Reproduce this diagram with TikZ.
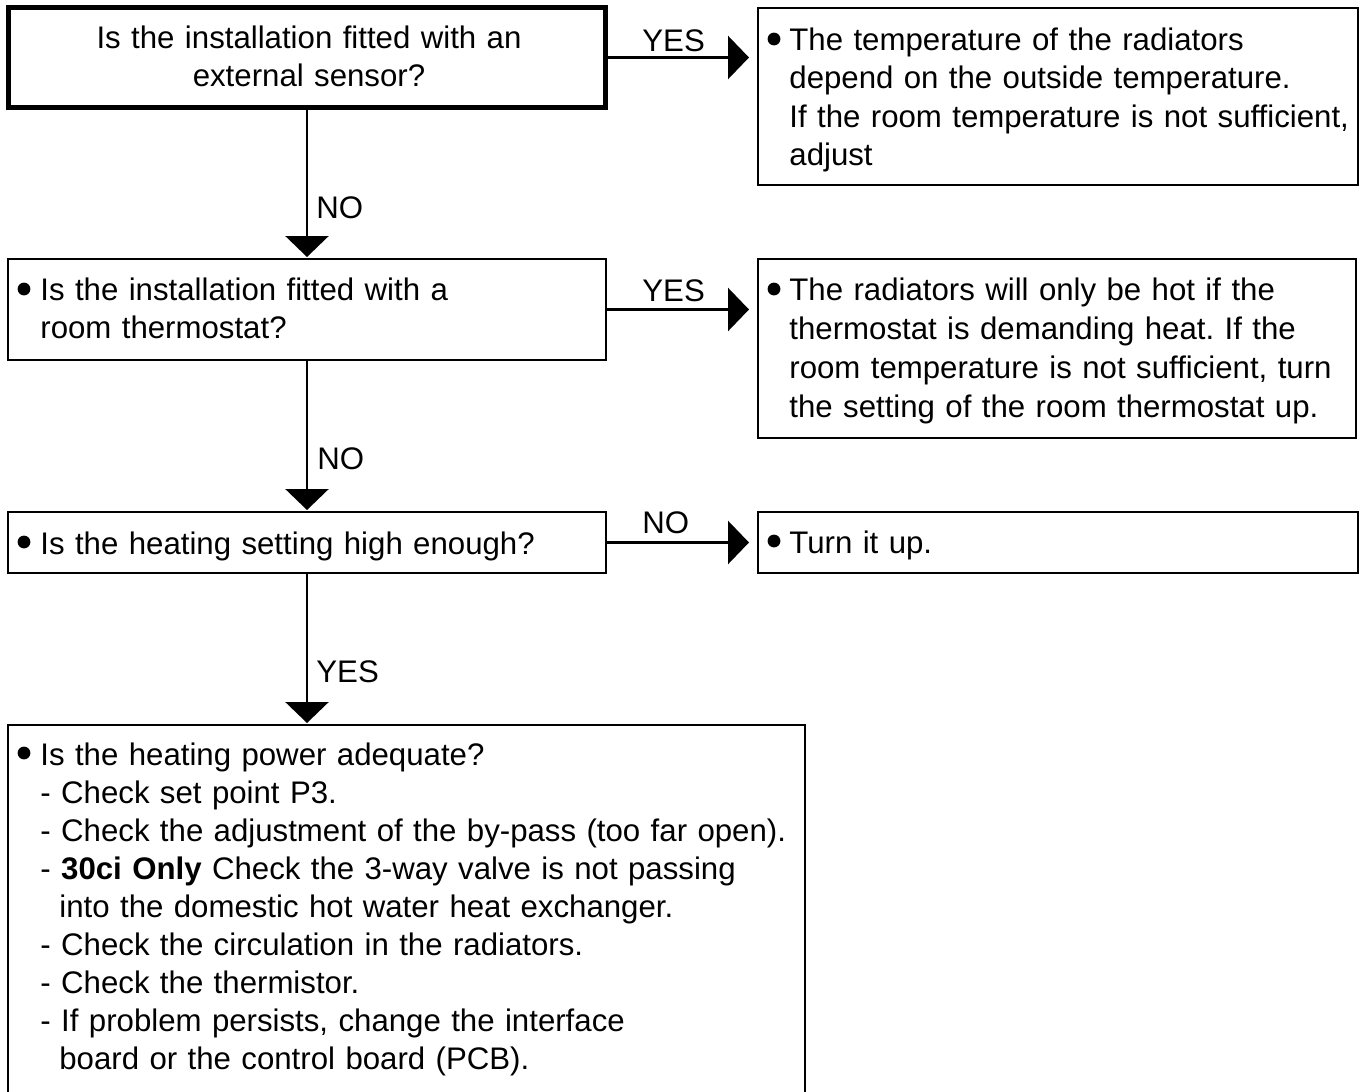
\documentclass[tikz,border=0pt]{standalone}
\usepackage{fontspec}
\setmainfont{Liberation Sans}
\usetikzlibrary{arrows.meta}

% type size and leading of the flowchart texts
\newcommand{\fs}{\fontsize{15.6}{19.15}\selectfont\frenchspacing}
\newcommand{\fsb}{\fontsize{15.6}{19}\selectfont\frenchspacing}
\newcommand{\fsc}{\fontsize{15.6}{19.5}\selectfont\frenchspacing}
% first-line strut and indents
\newcommand{\fst}{\rule{0pt}{12pt}}
\newcommand{\ind}{\hspace*{11pt}}
\newcommand{\indd}{\hspace*{20.5pt}}

\tikzset{
  box/.style={draw, rectangle, line width=1.4pt, inner sep=0pt, outer sep=0pt, anchor=north west},
  thickbox/.style={box, line width=2.6pt},
  txt/.style={inner sep=0pt, anchor=north west, text width=300pt, align=left, font=\fs},
  lbl/.style={inner sep=0pt, anchor=base west, font=\fs},
  conn/.style={line width=1.4pt, -{Triangle[length=10.5pt,width=21.5pt]}},
  dot/.style={fill=black},
}

\begin{document}
\begin{tikzpicture}[x=0.5pt, y=-0.5pt]
  \path[use as bounding box, clip] (0,0) rectangle (1366,1092);

  % question boxes (left column)
  \node[thickbox, minimum width=298.5pt, minimum height=50pt] (q1) at (8.5,7.5) {};
  \node[box, minimum width=299pt, minimum height=50.5pt] (q2) at (8,259) {};
  \node[box, minimum width=299pt, minimum height=30.5pt] (q3) at (8,512) {};
  \node[box, minimum width=398.5pt, minimum height=190pt] (q4) at (8,725) {};

  % answer boxes (right column)
  \node[box, minimum width=300pt, minimum height=88.5pt] (a1) at (758,8) {};
  \node[box, minimum width=299pt, minimum height=89.5pt] (a2) at (758,259) {};
  \node[box, minimum width=300pt, minimum height=30.5pt] (a3) at (758,512) {};

  % box texts
  \node[txt, anchor=north, align=center, font=\fsb] (t1) at (309,24.5)
    {\fst Is the installation fitted with an\\external sensor?};
  \node[txt] (t2) at (18,276)
    {\fst\ind Is the installation fitted with a\\\ind room thermostat?};
  \node[txt] (t3) at (18,530)
    {\fst\ind Is the heating setting high enough?};
  \node[txt, text width=420pt, font=\fsb] (t4) at (18,741)
    {\fst\ind Is the heating power adequate?\\
     \ind - Check set point P3.\\
     \ind - Check the adjustment of the by-pass (too far open).\\
     \ind - \textbf{30ci Only} Check the 3-way valve is not passing\\
     \indd into the domestic hot water heat exchanger.\\
     \ind - Check the circulation in the radiators.\\
     \ind - Check the thermistor.\\
     \ind - If problem persists, change the interface\\
     \indd board or the control board (PCB).};

  \node[txt] (u1) at (767,26)
    {\fst\ind The temperature of the radiators\\
     \ind depend on the outside temperature.\\
     \ind If the room temperature is not sufficient,\\
     \ind adjust};
  \node[txt, font=\fsc] (u2) at (767,276)
    {\fst\ind The radiators will only be hot if the\\
     \ind thermostat is demanding heat. If the\\
     \ind room temperature is not sufficient, turn\\
     \ind the setting of the room thermostat up.};
  \node[txt] (u3) at (767,529)
    {\fst\ind Turn it up.};

  % bullets
  \fill[dot] (24,289) circle (3.2pt);
  \fill[dot] (24,542) circle (3.2pt);
  \fill[dot] (24,753) circle (3.2pt);
  \fill[dot] (774,39) circle (3.2pt);
  \fill[dot] (774,289) circle (3.2pt);
  \fill[dot] (774,541) circle (3.2pt);

  % connectors
  \draw[conn, shorten >=4.5pt] (q1.east) -- (q1.east -| a1.west);
  \draw[conn, shorten >=4.5pt] (q2.east) -- (q2.east -| a2.west);
  \draw[conn, shorten >=4.5pt] (q3.east) -- (a3.west);
  \draw[conn, shorten >=1pt] (q1.south) -- (q2.north);
  \draw[conn, shorten >=1pt] (q2.south) -- (q3.north);
  \draw[conn, shorten >=1pt] (q3.south) -- (q3.south |- q4.north);

  % connector labels
  \node[lbl] (yes1) at (642,51) {YES};
  \node[lbl] (yes2) at (642,301) {YES};
  \node[lbl] (no3) at (642,533) {NO};
  \node[lbl] (no1) at (316,218) {NO};
  \node[lbl] (no2) at (317,469) {NO};
  \node[lbl] (yes3) at (316,682) {YES};
\end{tikzpicture}
\end{document}
